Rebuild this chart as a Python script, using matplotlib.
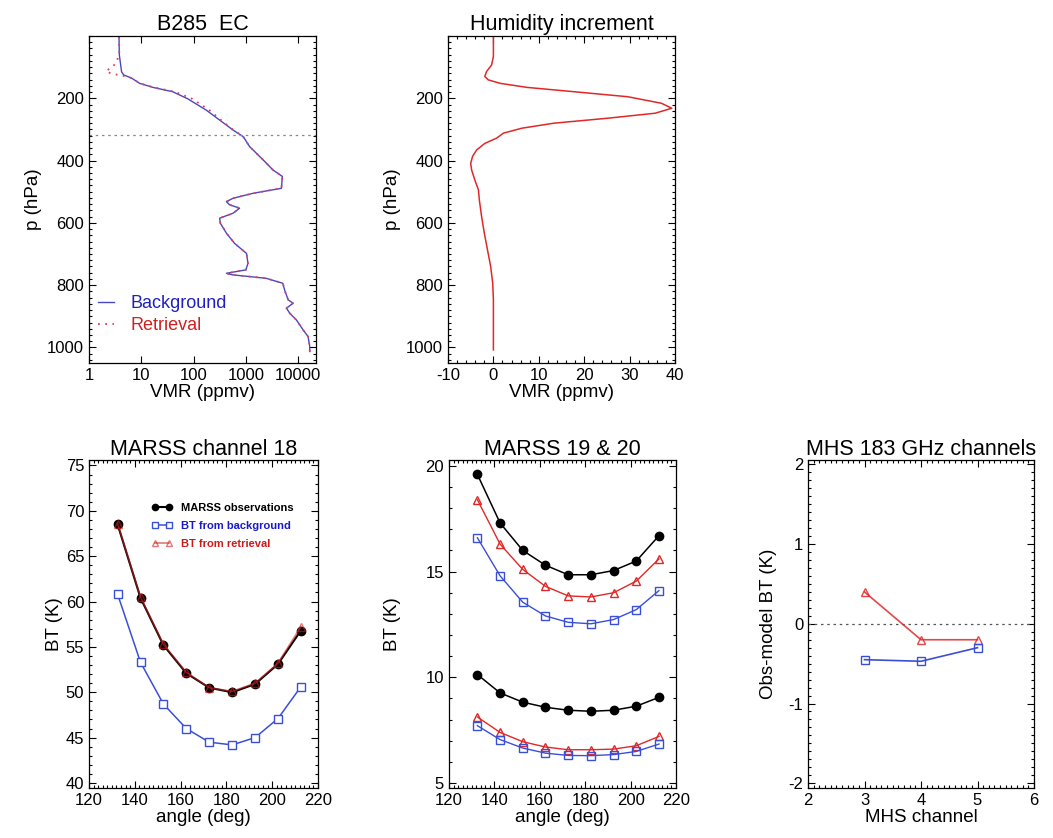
import numpy as np
import matplotlib
matplotlib.use("Agg")
import matplotlib.pyplot as plt
from matplotlib.ticker import FixedLocator, AutoMinorLocator, NullFormatter, LogLocator

plt.rcParams['font.family'] = ['Liberation Sans', 'DejaVu Sans']
plt.rcParams['axes.unicode_minus'] = False

# ---------------- data ----------------
# Panel 1: humidity profiles (pressure hPa, VMR ppmv)
bg_p = [2, 60, 115, 125, 135, 152, 165, 179, 202, 238, 270, 302, 323, 355, 398, 430, 451,
        489, 505, 521, 532, 542, 553, 569, 585, 601, 633, 666, 698, 730, 751, 762, 767, 778,
        794, 815, 847, 858, 874, 890, 912, 944, 965, 997, 1013]
bg_vmr = [3.75, 3.8, 4.2, 4.6, 6.5, 9.3, 16.7, 40, 78, 175, 316, 570, 890, 1180, 2150, 3300, 5000,
          4800, 1380, 570, 425, 490, 760, 570, 316, 325, 425, 610, 1030, 1100, 1000, 425, 560, 2450,
          5100, 5500, 6450, 8000, 6000, 6900, 9300, 12500, 15500, 16700, 16700]
ret_p = [2, 60, 85, 100, 112, 120, 128, 135, 152, 165, 179, 202, 238, 270, 302, 323, 355, 398, 430, 451,
         489, 505, 521, 532, 542, 553, 569, 585, 601, 633, 666, 698, 730, 751, 762, 767, 778,
         794, 815, 847, 858, 874, 890, 912, 944, 965, 997, 1013]
ret_vmr = [3.75, 3.8, 3.3, 2.8, 2.1, 2.6, 4.5, 6.5, 9.4, 17.5, 44, 95, 200, 335, 580, 890, 1180, 2150, 3300, 5000,
           4800, 1380, 570, 425, 490, 760, 570, 316, 325, 425, 610, 1030, 1100, 1000, 425, 560, 2450,
           5100, 5500, 6450, 8000, 6000, 6900, 9300, 12500, 15500, 16700, 16700]
flight_level = 318

# Panel 2: humidity increment
inc_p = [2, 66, 93, 114, 130, 141, 152, 165, 179, 195, 216, 232, 248, 264, 280, 296, 312, 328,
         345, 366, 387, 409, 430, 462, 494, 526, 580, 633, 687, 740, 794, 847, 1008]
inc_vmr = [0, 0, -0.4, -1.5, -1.9, -1.1, 1.5, 7.4, 17.8, 29.6, 37, 39.3, 35.6, 25.2, 13.3, 6.3, 2.2, 0.7,
           -1.9, -3.7, -4.6, -5.0, -4.8, -4.1, -3.3, -3.1, -2.6, -2.0, -1.3, -0.6, -0.15, 0, 0]

# Panels 3-4: MARSS scan angles
angle = [132.5, 142.5, 152.5, 162.5, 172.5, 182.5, 192.5, 202.5, 212.5]
ch18_obs = [68.5, 60.4, 55.2, 52.1, 50.5, 50.0, 50.9, 53.1, 56.8]
ch18_bg = [60.8, 53.3, 48.7, 46.0, 44.5, 44.2, 45.0, 47.1, 50.6]
ch18_ret = [68.6, 60.5, 55.3, 52.2, 50.5, 50.1, 51.0, 53.2, 57.2]

ch19_obs = [19.6, 17.3, 16.0, 15.3, 14.85, 14.85, 15.05, 15.5, 16.7]
ch19_ret = [18.4, 16.3, 15.1, 14.3, 13.85, 13.8, 14.0, 14.55, 15.6]
ch19_bg = [16.6, 14.8, 13.55, 12.9, 12.6, 12.53, 12.73, 13.2, 14.1]
ch20_obs = [10.13, 9.26, 8.82, 8.58, 8.44, 8.39, 8.44, 8.63, 9.05]
ch20_ret = [8.12, 7.39, 6.95, 6.70, 6.57, 6.57, 6.60, 6.76, 7.2]
ch20_bg = [7.71, 7.05, 6.65, 6.41, 6.30, 6.29, 6.34, 6.49, 6.84]

# Panel 5: MHS
mhs_ch = [3, 4, 5]
mhs_ret = [0.40, -0.20, -0.20]
mhs_bg = [-0.45, -0.47, -0.30]

BLUE = '#3a4fd8'
RED = '#e02828'

W, H = 1053, 838
fig = plt.figure(figsize=(W / 100, H / 100), dpi=100)

TITLE = 15.5
LABEL = 13.5


def axes_px(x0, x1, y0, y1):
    return fig.add_axes([x0 / W, 1 - y1 / H, (x1 - x0) / W, (y1 - y0) / H])


def style(ax):
    ax.tick_params(which='both', direction='in', top=True, right=True, labelsize=12, width=0.8)
    ax.tick_params(which='major', length=5)
    ax.tick_params(which='minor', length=2.5)
    for s in ax.spines.values():
        s.set_linewidth(0.9)


# ---- Panel 1 ----
ax1 = axes_px(89, 316, 36, 363)
ax1.plot(bg_vmr, bg_p, color='#4848c0', lw=1.0, label='Background')
ax1.plot(ret_vmr, ret_p, color='#e04060', lw=1.3, ls=(0, (1, 3)), label='Retrieval')
ax1.axhline(flight_level, color='#888888', lw=0.9, ls=(0, (2, 3)))
ax1.set_xscale('log')
ax1.set_xlim(1, 22000)
ax1.set_ylim(1050, 0)
ax1.xaxis.set_major_locator(FixedLocator([1, 10, 100, 1000, 10000]))
ax1.set_xticklabels(['1', '10', '100', '1000', '10000'])
ax1.xaxis.set_minor_locator(LogLocator(base=10, subs=np.arange(2, 10)))
ax1.xaxis.set_minor_formatter(NullFormatter())
ax1.set_yticks([200, 400, 600, 800, 1000])
ax1.yaxis.set_minor_locator(AutoMinorLocator(10))
style(ax1)
ax1.set_title('B285  EC', fontsize=TITLE, pad=4)
ax1.set_xlabel('VMR (ppmv)', fontsize=LABEL, labelpad=1)
ax1.set_ylabel('p (hPa)', fontsize=LABEL, labelpad=4)
ax1.legend(loc='upper left', bbox_to_anchor=(0.04, 0.207), frameon=False, fontsize=13,
           handlelength=0.9, handletextpad=0.9, labelspacing=0.25, borderpad=0, borderaxespad=0,
           labelcolor=['#2020c0', '#d02020'])

# ---- Panel 2 ----
ax2 = axes_px(448, 675, 36, 363)
ax2.plot(inc_vmr, inc_p, color=RED, lw=1.1)
ax2.set_xlim(-10, 40)
ax2.set_ylim(1050, 0)
ax2.set_xticks([-10, 0, 10, 20, 30, 40])
ax2.xaxis.set_minor_locator(AutoMinorLocator(5))
ax2.set_yticks([200, 400, 600, 800, 1000])
ax2.yaxis.set_minor_locator(AutoMinorLocator(10))
style(ax2)
ax2.set_title('Humidity increment', fontsize=TITLE, pad=4)
ax2.set_xlabel('VMR (ppmv)', fontsize=LABEL, labelpad=1)
ax2.set_ylabel('p (hPa)', fontsize=LABEL, labelpad=4)

# ---- Panel 3 ----
ax3 = axes_px(89, 318, 460, 788)
ax3.plot(angle, ch18_obs, color='black', lw=1.5, marker='o', ms=6, label='MARSS observations')
ax3.plot(angle, ch18_bg, color=BLUE, lw=1.1, marker='s', ms=6, mfc='white', mew=1.0,
         label='BT from background')
ax3.plot(angle, ch18_ret, color='#d02020', lw=1.2, alpha=0.6, marker='^', ms=6, mfc='none', mew=1.0,
         label='BT from retrieval')
ax3.set_xlim(120, 220)
ax3.set_ylim(39.45, 75.6)
ax3.set_xticks([120, 140, 160, 180, 200, 220])
ax3.xaxis.set_minor_locator(AutoMinorLocator(10))
ax3.set_yticks([40, 45, 50, 55, 60, 65, 70, 75])
ax3.yaxis.set_minor_locator(AutoMinorLocator(5))
style(ax3)
ax3.set_title('MARSS channel 18', fontsize=TITLE, pad=3)
ax3.set_xlabel('angle (deg)', fontsize=LABEL, labelpad=1)
ax3.set_ylabel('BT (K)', fontsize=LABEL, labelpad=2)
ax3.legend(loc='upper left', bbox_to_anchor=(0.275, 0.87), frameon=False,
           prop={'size': 8, 'weight': 'bold'}, numpoints=2, handlelength=1.8,
           handletextpad=0.8, labelspacing=0.75, borderpad=0, borderaxespad=0,
           labelcolor=['black', '#1a1acc', '#cc1a1a'], markerscale=0.75)

# ---- Panel 4 ----
ax4 = axes_px(449, 676, 460, 788)
for obs, ret, bg in [(ch19_obs, ch19_ret, ch19_bg), (ch20_obs, ch20_ret, ch20_bg)]:
    ax4.plot(angle, obs, color='black', lw=1.1, marker='o', ms=6)
    ax4.plot(angle, ret, color=RED, lw=1.0, marker='^', ms=6, mfc='none', mew=1.0)
    ax4.plot(angle, bg, color=BLUE, lw=1.0, marker='s', ms=5.5, mfc='none', mew=1.0)
ax4.set_xlim(120, 220)
ax4.set_ylim(4.76, 20.28)
ax4.set_xticks([120, 140, 160, 180, 200, 220])
ax4.xaxis.set_minor_locator(AutoMinorLocator(10))
ax4.set_yticks([5, 10, 15, 20])
ax4.yaxis.set_minor_locator(AutoMinorLocator(5))
style(ax4)
ax4.set_title('MARSS 19 & 20', fontsize=TITLE, pad=3)
ax4.set_xlabel('angle (deg)', fontsize=LABEL, labelpad=1)
ax4.set_ylabel('BT (K)', fontsize=LABEL, labelpad=18)

# ---- Panel 5 ----
ax5 = axes_px(808, 1034, 460, 788)
ax5.axhline(0, color='#555555', lw=0.9, ls=(0, (2, 3)))
ax5.plot(mhs_ch, mhs_ret, color=RED, lw=1.2, alpha=0.85, marker='^', ms=6, mfc='none', mew=1.0)
ax5.plot(mhs_ch, mhs_bg, color=BLUE, lw=1.2, marker='s', ms=5.5, mfc='none', mew=1.0)
ax5.set_xlim(2, 6)
ax5.set_ylim(-2.06, 2.055)
ax5.set_xticks([2, 3, 4, 5, 6])
ax5.xaxis.set_minor_locator(AutoMinorLocator(10))
ax5.set_yticks([-2, -1, 0, 1, 2])
ax5.yaxis.set_minor_locator(AutoMinorLocator(10))
style(ax5)
ax5.set_title('MHS 183 GHz channels', fontsize=TITLE, pad=3)
ax5.set_xlabel('MHS channel', fontsize=LABEL, labelpad=1)
ax5.set_ylabel('Obs-model BT (K)', fontsize=LABEL, labelpad=8)

fig.savefig('out.png', dpi=100, facecolor='white')
